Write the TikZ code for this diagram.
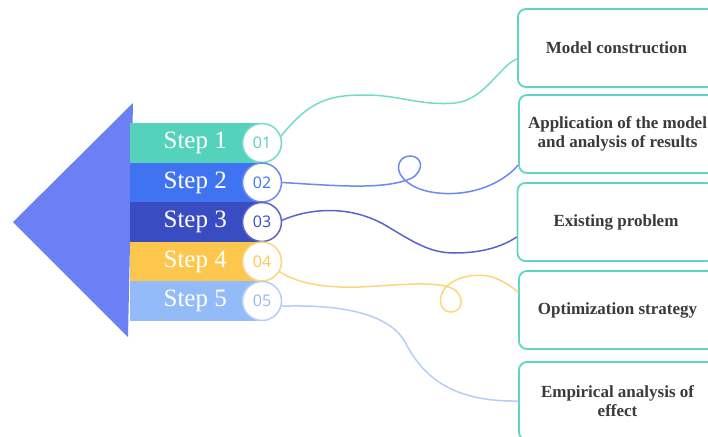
\documentclass[tikz,border=0pt]{standalone}
\usepackage{fontspec}
\setmainfont{Liberation Serif}
\newfontfamily\numfont{Open Sans}
\usetikzlibrary{calc}
\definecolor{arrowblue}{HTML}{6B80F3}
\definecolor{stepA}{HTML}{54D2BC}
\definecolor{stepB}{HTML}{3F73F2}
\definecolor{stepC}{HTML}{3A4CC2}
\definecolor{stepD}{HTML}{FCC74C}
\definecolor{stepE}{HTML}{92BBF8}
\definecolor{lineA}{HTML}{72DCC6}
\definecolor{lineB}{HTML}{6A8AF0}
\definecolor{lineC}{HTML}{5A64C8}
\definecolor{lineD}{HTML}{FBD77A}
\definecolor{lineE}{HTML}{B6CDF8}
\definecolor{boxline}{HTML}{5FD6C2}
\definecolor{boxtext}{HTML}{3A3A3A}

\begin{document}
\begin{tikzpicture}[x=1pt,y=-1pt,
    bar/.style={anchor=west,minimum width=130pt,minimum height=39.5pt,inner sep=0pt,
      text=white,font=\fontsize{25}{28}\selectfont},
    num/.style={circle,fill=white,line width=1.5pt,minimum size=39pt,inner sep=0pt,
      font=\numfont\fontsize{16}{18}\selectfont},
    box/.style={draw=boxline,line width=1.8pt,rounded corners=8pt,fill=white,
      minimum width=197pt,minimum height=78pt,align=center,text=boxtext,
      font=\fontsize{17}{19}\selectfont\bfseries},
    link/.style={line width=1.5pt}]
      \useasboundingbox (0,0) rectangle (708,436) ;
      \clip (0,0) rectangle (708,436) ;
      % big arrow head
      \fill[arrowblue] (13,222)--(133,103)--(128,337)--cycle ;
      % step bars
      \node[bar,fill=stepA] (S1) at (130,143) {Step 1} ;
      \node[bar,fill=stepB] (S2) at (130,182.5) {Step 2} ;
      \node[bar,fill=stepC] (S3) at (130,222) {Step 3} ;
      \node[bar,fill=stepD] (S4) at (130,261.5) {Step 4} ;
      \node[bar,fill=stepE] (S5) at (130,301) {Step 5} ;
      % number circles
      \node[num,draw=lineA,text=stepA] (C1) at (262,143) {01} ;
      \node[num,draw=lineB,text=stepB] (C2) at (262,182.5) {02} ;
      \node[num,draw=lineC,text=stepC] (C3) at (262,222) {03} ;
      \node[num,draw=lineD,text=stepD] (C4) at (262,261.5) {04} ;
      \node[num,draw=lineE,text=stepE] (C5) at (262,301) {05} ;
      % boxes
      \node[box] (B1) at (616.5,48) {Model construction} ;
      \node[box] (B2) at (617.5,134) {Application of the model\\and analysis of results} ;
      \node[box] (B3) at (616,222) {Existing problem} ;
      \node[box] (B4) at (617.5,310) {Optimization strategy} ;
      \node[box] (B5) at (617.5,401) {Empirical analysis of\\effect} ;
      % links
      \draw[link,lineA] (C1.20) .. controls (310,100) and (330,95) .. (365,95)
        .. controls (400,95) and (420,106) .. (455,103)
        .. controls (485,100) and (500,65) .. ($(B1.west)+(0,11)$) ;
      \draw[link,lineB] (C2.east) .. controls (340,186) and (385,190) .. (412,178)
        .. controls (425,170) and (422,156) .. (410,156)
        .. controls (398,156) and (395,170) .. (403,178)
        .. controls (415,192) and (440,195) .. (460,193)
        .. controls (490,190) and (510,175) .. ($(B2.west)+(0,31)$) ;
      \draw[link,lineC] (C3.5) .. controls (310,208) and (350,205) .. (385,225)
        .. controls (415,243) and (430,253) .. (455,253)
        .. controls (485,253) and (505,245) .. ($(B3.west)+(0,15)$) ;
      \draw[link,lineD] (C4.-30) .. controls (300,285) and (330,288) .. (360,287)
        .. controls (400,285) and (440,280) .. (455,290)
        .. controls (465,298) and (462,312) .. (451,312)
        .. controls (440,312) and (437,298) .. (445,288)
        .. controls (455,276) and (480,272) .. (495,278)
        .. controls (505,282) and (512,287) .. ($(B4.west)+(0,-18)$) ;
      \draw[link,lineE] (C5.-15) .. controls (345,304) and (390,315) .. (405,342)
        .. controls (422,375) and (450,402) .. (B5.west) ;
    \end{tikzpicture}
\end{document}
